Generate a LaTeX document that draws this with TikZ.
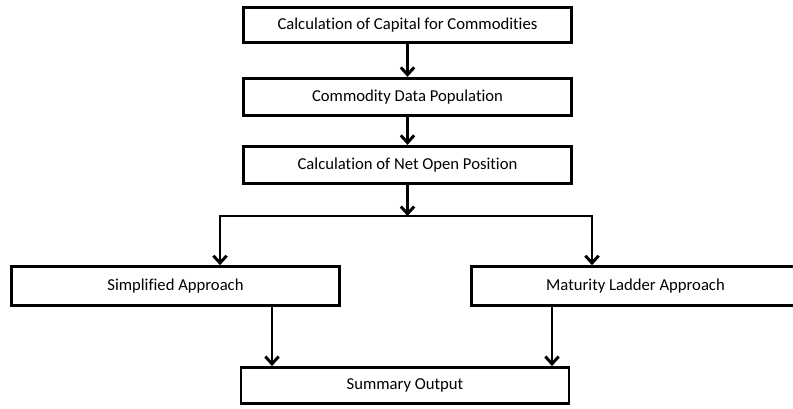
\documentclass[tikz,border=0pt]{standalone}
\usepackage{fontspec}
\setmainfont[Ligatures={NoCommon}]{Carlito}
\usetikzlibrary{arrows.meta,positioning}

\begin{document}
\begin{tikzpicture}[
  x=0.75pt, y=-0.75pt,
  >={Straight Barb[length=5.5pt, width=10pt]},
  stagebox/.style={rectangle, draw, line width=2.2pt, fill=white, align=center, font=\fontsize{12.5}{14}\selectfont, minimum width=246pt, minimum height=28pt, inner sep=0pt},
  arrow/.style={->, line width=2.2pt, draw=black}
]
\clip (0,0) rectangle (793,408);
\def\xMain{407.5}
\def\xSimple{175.5}
\def\xLadder{635.5}
\def\ySplit{216}
\node[stagebox, minimum height=26.5pt] (capital) at (\xMain, 25) {Calculation of Capital for Commodities};
\node[stagebox] (population) at (\xMain, 97) {Commodity Data Population};
\node[stagebox] (netopen) at (\xMain, 165) {Calculation of Net Open Position};
\node[stagebox, minimum height=29pt] (simple) at (\xSimple, 286) {Simplified Approach};
\node[stagebox, minimum height=29pt] (ladder) at (\xLadder, 286) {Maturity Ladder Approach};
\node[stagebox, minimum height=27pt] (summary) at (405, 385.5) {Summary Output};
\coordinate (splitL) at (220, \ySplit);
\coordinate (splitR) at (592, \ySplit);
\coordinate (inL) at (272, 0);
\coordinate (inR) at (552, 0);
\draw[arrow] (capital) -- (population);
\draw[arrow] (population) -- (netopen);
\draw[arrow] (netopen.south) -- (netopen.south |- splitL);
\draw[arrow, <->] (splitL |- simple.north) -- (splitL) -- (splitR) -- (splitR |- ladder.north);
\draw[arrow] (simple.south -| inL) -- (summary.north -| inL);
\draw[arrow] (ladder.south -| inR) -- (summary.north -| inR);
\end{tikzpicture}
\end{document}
